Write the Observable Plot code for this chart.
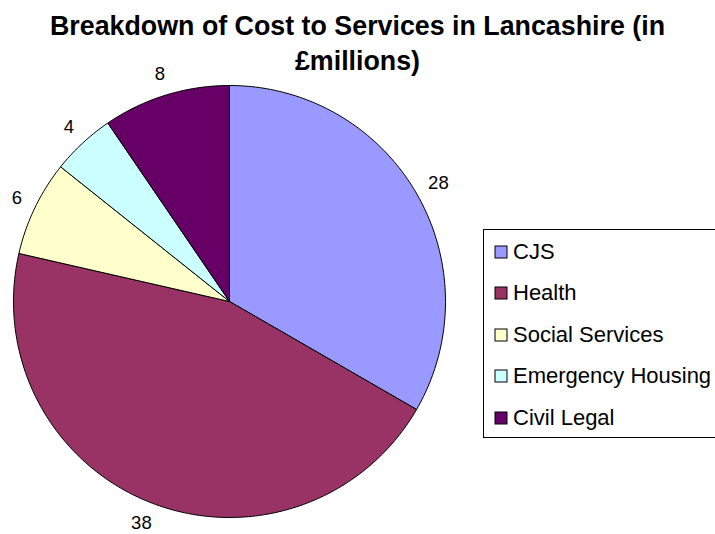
<!DOCTYPE html>
<html>
<head>
<meta charset="utf-8">
<script src="https://cdn.jsdelivr.net/npm/d3@7"></script>
<script src="https://cdn.jsdelivr.net/npm/@observablehq/plot@0.6"></script>
<style>
html, body { margin: 0; padding: 0; background: #fff; }
#wrap { position: relative; width: 715px; height: 534px; overflow: hidden; font-family: "Liberation Sans", Arial, sans-serif; }
#chart { position: absolute; left: 0; top: 0; }
#title { position: absolute; left: 0; top: 8.5px; width: 715px; text-align: center; font-weight: bold; font-size: 26.8px; line-height: 35px; color: #000; font-family: "Liberation Sans", Arial, sans-serif; }
#leg { position: absolute; left: 483px; top: 229px; width: 250px; height: 209px; border: 1px solid #000; box-sizing: border-box; padding: 1px 0 0 11px; background: #fff; }
#leg > div, #leg [class$="-swatches"] { font-family: "Liberation Sans", Arial, sans-serif !important; font-size: 22px !important; margin: 0 !important; padding: 0; color: #000; columns: auto !important; min-height: 0 !important; }
#leg [class$="-swatch"] { display: flex; align-items: center; height: 41.5px; margin: 0 !important; padding: 0 !important; white-space: nowrap; }
#leg [class$="-swatch"] svg { margin-right: 6px !important; overflow: visible; flex: none; }
#leg [class$="-swatch"] rect { stroke: #000; stroke-width: 1px; }
#leg [class$="-swatch"] > :not(svg) { overflow: visible !important; text-overflow: clip !important; white-space: nowrap; }
</style>
</head>
<body>
<div id="wrap">
  <div id="chart"></div>
  <div id="title">Breakdown of Cost to Services in Lancashire (in<br>£millions)</div>
  <div id="leg"></div>
</div>
<script>
const categories = ["CJS", "Health", "Social Services", "Emergency Housing", "Civil Legal"];
const values = [28, 38, 6, 4, 8];
const colors = ["#9999FF", "#993366", "#FFFFCC", "#CCFFFF", "#660066"];

const cx = 229, cy = 301, r = 216;

const slices = d3.pie().sort(null).value(d => d.value)(
  categories.map((name, i) => ({name, value: values[i]}))
);

const pts = [];
slices.forEach(s => {
  const n = Math.max(2, Math.ceil((s.endAngle - s.startAngle) / (Math.PI / 180)));
  pts.push({name: s.data.name, x: cx, y: cy});
  for (let k = 0; k <= n; k++) {
    const a = s.startAngle + (s.endAngle - s.startAngle) * k / n;
    pts.push({name: s.data.name, x: cx + r * Math.sin(a), y: cy - r * Math.cos(a)});
  }
  pts.push({name: s.data.name, x: cx, y: cy});
});

const R = 231;
const labels = slices.map(s => {
  const a = (s.startAngle + s.endAngle) / 2;
  const t = String(s.data.value);
  const hw = t.length * 5.1, hh = 6.6;
  return {t, x: cx + Math.sin(a) * (R + hw), y: cy - Math.cos(a) * (R + hh)};
});

const chart = Plot.plot({
  width: 715,
  height: 534,
  margin: 0,
  x: {domain: [0, 715], range: [0, 715], axis: null},
  y: {domain: [0, 534], range: [0, 534], axis: null},
  color: {domain: categories, range: colors},
  style: {background: "transparent", overflow: "visible"},
  marks: [
    Plot.line(pts, {x: "x", y: "y", z: "name", fill: "name", stroke: "#000", strokeWidth: 1, curve: "linear"}),
    Plot.text(labels, {x: "x", y: "y", text: "t", fontSize: 18.5, fontFamily: "Liberation Sans, Arial, sans-serif", fill: "#000", textAnchor: "middle", lineAnchor: "middle"})
  ]
});
document.getElementById("chart").appendChild(chart);

const legend = Plot.legend({
  color: {type: "ordinal", domain: categories, range: colors},
  columns: 1,
  swatchSize: 12,
  className: "lg"
});
document.getElementById("leg").appendChild(legend);
</script>
</body>
</html>
